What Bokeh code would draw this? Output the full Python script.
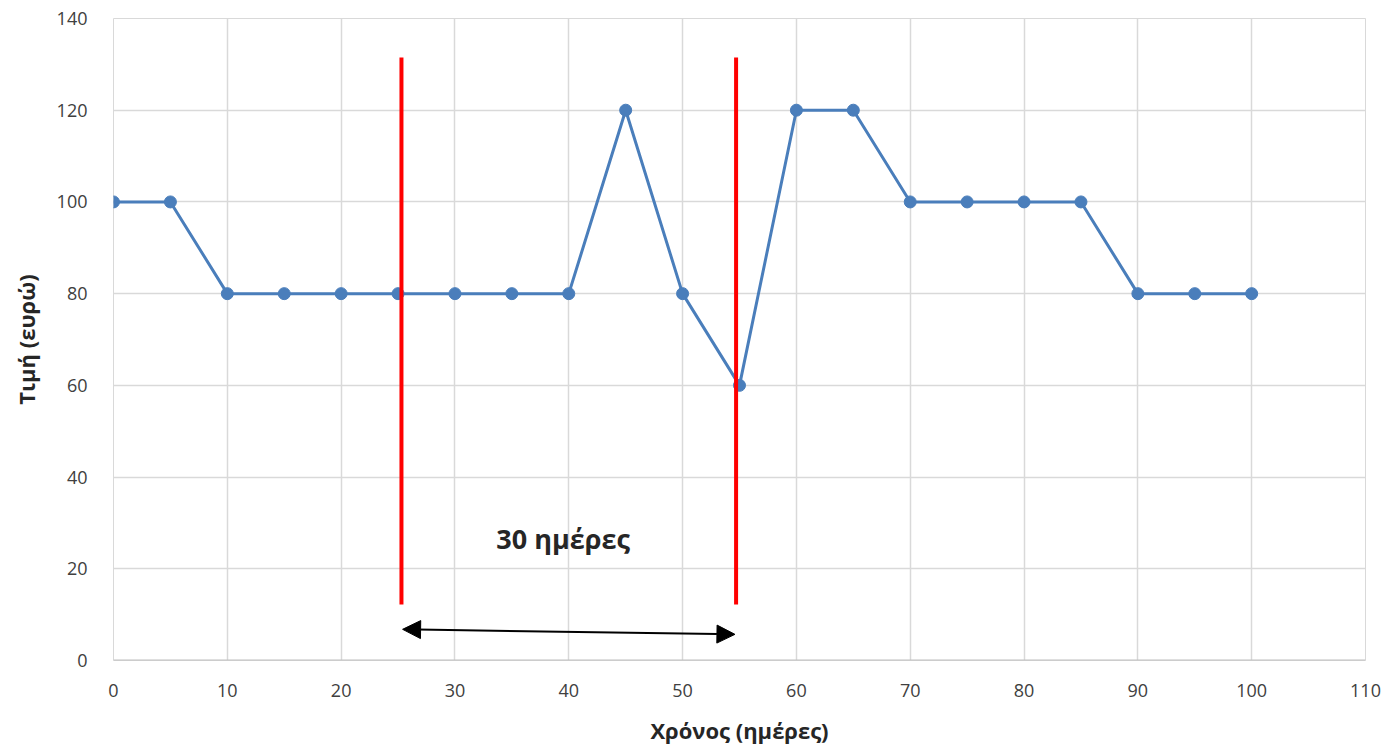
from bokeh.plotting import figure
from bokeh.models import Range1d, FixedTicker, Arrow, NormalHead, Label
from bokeh.embed import file_html
from bokeh.resources import INLINE

days = [0, 5, 10, 15, 20, 25, 30, 35, 40, 45, 50, 55, 60, 65, 70, 75, 80, 85, 90, 95, 100]
price = [100, 100, 80, 80, 80, 80, 80, 80, 80, 120, 80, 60, 120, 120, 100, 100, 100, 100, 80, 80, 80]
x_ticks = [0, 10, 20, 30, 40, 50, 60, 70, 80, 90, 100, 110]
y_ticks = [0, 20, 40, 60, 80, 100, 120, 140]
window_start = 25.3
window_end = 54.7
window_label = "30 ημέρες"

FONT = "Open Sans"

p = figure(width=1383, height=748, output_backend="svg", toolbar_location=None,
           x_range=Range1d(0, 110), y_range=Range1d(0, 140),
           min_border_left=113, min_border_right=18, min_border_top=18, min_border_bottom=88)

p.outline_line_color = "#d9d9d9"
p.background_fill_color = "white"
p.border_fill_color = "white"

for ax in (p.xaxis[0], p.yaxis[0]):
    ax.major_tick_line_color = None
    ax.minor_tick_line_color = None
    ax.axis_line_color = None
    ax.major_label_text_font = FONT
    ax.major_label_text_font_size = "18px"
    ax.major_label_text_color = "#404040"
    ax.axis_label_text_font = FONT
    ax.axis_label_text_font_size = "22px"
    ax.axis_label_text_font_style = "bold"
    ax.axis_label_text_color = "#262626"

p.xaxis.ticker = FixedTicker(ticks=x_ticks)
p.yaxis.ticker = FixedTicker(ticks=y_ticks)
p.xaxis.major_label_standoff = 17
p.yaxis.major_label_standoff = 20
p.xaxis.axis_label = "Χρόνος (ημέρες)"
p.yaxis.axis_label = "Τιμή (ευρώ)"
p.xaxis.axis_label_standoff = 15
p.yaxis.axis_label_standoff = 13

p.xgrid.ticker = FixedTicker(ticks=x_ticks)
p.ygrid.ticker = FixedTicker(ticks=y_ticks)
p.xgrid.grid_line_color = "#d9d9d9"
p.ygrid.grid_line_color = "#d9d9d9"
p.xgrid.grid_line_width = 1.5
p.ygrid.grid_line_width = 1.5

# bottom axis-like line
p.segment(x0=[0], y0=[0], x1=[110], y1=[0], line_color="#bfbfbf", line_width=2)

blue = "#4a7ebb"
p.line(days, price, line_color=blue, line_width=3)
p.scatter(days, price, size=12, fill_color=blue, line_color=blue)

# red window lines
p.segment(x0=[window_start, window_end], y0=[12.2, 12.2], x1=[window_start, window_end], y1=[131.5, 131.5],
          line_color="#ff0000", line_width=4)

# double arrow
p.add_layout(Arrow(x_start=window_start + 0.1, y_start=6.8, x_end=window_end - 0.1, y_end=5.7,
                   line_color="black", line_width=2,
                   start=NormalHead(size=18, fill_color="black", line_color="black"),
                   end=NormalHead(size=18, fill_color="black", line_color="black")))

p.add_layout(Label(x=39.5, y=26.6, text=window_label, text_font=FONT, text_font_size="27px",
                   text_font_style="bold", text_color="#262626", text_align="center",
                   text_baseline="middle"))

open("out.html", "w").write(file_html(p, INLINE))
